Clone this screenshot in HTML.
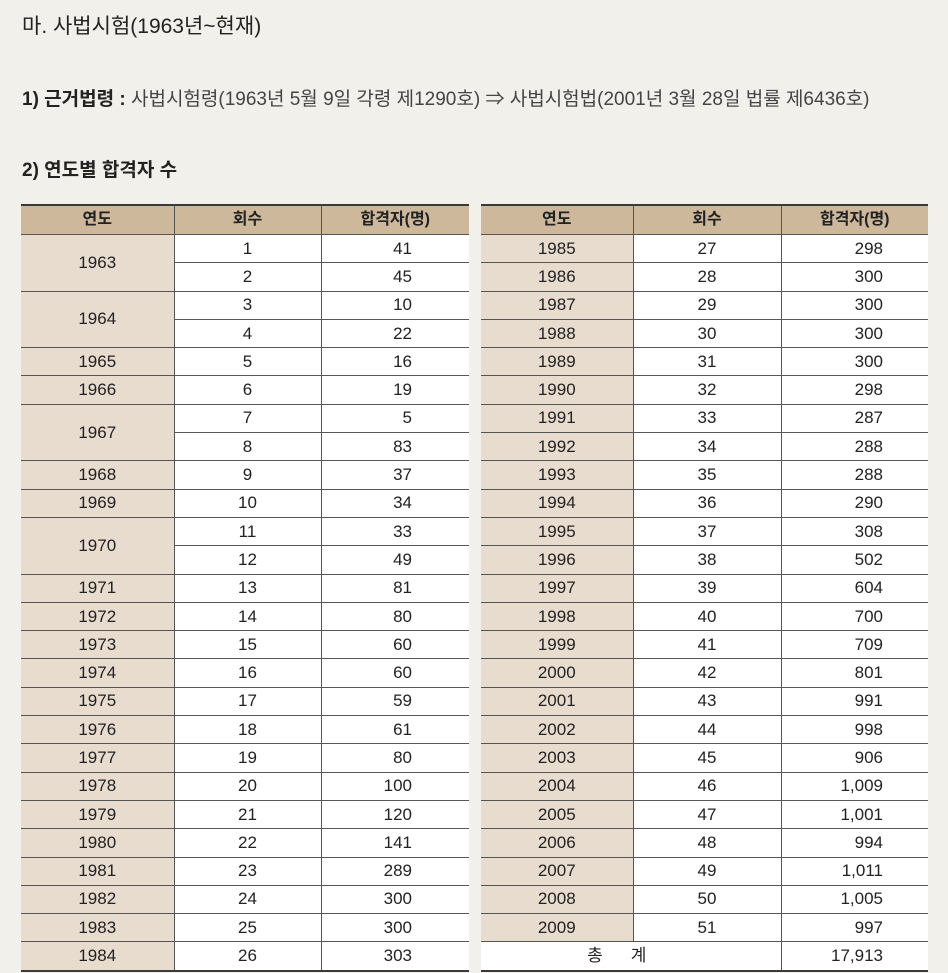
<!DOCTYPE html>
<html><head><meta charset="utf-8">
<style>
body{margin:0;width:948px;height:973px;background:#f2f0eb;font-family:"Liberation Sans","Noto Sans CJK KR",sans-serif;color:#222;position:relative;overflow:hidden}
.t{position:absolute;white-space:nowrap}
table{position:absolute;border-collapse:collapse;table-layout:fixed;font-size:17px;border-top:2px solid #3a3a3a;border-bottom:2px solid #3a3a3a}
td,th{height:27.3px;padding:0;border:1px solid #555;text-align:center;background:#fff;line-height:16px}
th{height:28px;background:#cdb89c;font-weight:bold;font-size:16px;border-top:none}
tr td:first-child,tr th:first-child{border-left:none}
tr td:last-child,tr th:last-child{border-right:none}
td.y{background:#e8dccf}
td.n{text-align:right}
#lt td.n{padding-right:57px}
#rt td.n{padding-right:45px}
</style></head><body>
<div class="t" style="left:22px;top:10px;font-size:21px">마. 사법시험(1963년~현재)</div>
<div class="t" style="left:22px;top:84px;font-size:19px"><b>1) 근거법령 :</b> <span style="color:#444">사법시험령(1963년 5월 9일 각령 제1290호) ⇒ 사법시험법(2001년 3월 28일 법률 제6436호)</span></div>
<div class="t" style="left:22px;top:155px;font-size:19px;font-weight:bold">2) 연도별 합격자 수</div>
<table id="lt" style="left:21px;top:204px;width:448px">
<colgroup><col style="width:153px"><col style="width:147px"><col style="width:148px"></colgroup>
<tr><th>연도</th><th>회수</th><th>합격자(명)</th></tr>
</table>
<table id="rt" style="left:481px;top:204px;width:447px">
<colgroup><col style="width:152px"><col style="width:148px"><col style="width:147px"></colgroup>
<tr><th>연도</th><th>회수</th><th>합격자(명)</th></tr>
</table>
<script>
const leftYears=[1963,1963,1964,1964,1965,1966,1967,1967,1968,1969,1970,1970,1971,1972,1973,1974,1975,1976,1977,1978,1979,1980,1981,1982,1983,1984];
const leftCounts=["41","45","10","22","16","19","5","83","37","34","33","49","81","80","60","60","59","61","80","100","120","141","289","300","300","303"];
const rightYears=[1985,1986,1987,1988,1989,1990,1991,1992,1993,1994,1995,1996,1997,1998,1999,2000,2001,2002,2003,2004,2005,2006,2007,2008,2009];
const rightCounts=["298","300","300","300","300","298","287","288","288","290","308","502","604","700","709","801","991","998","906","1,009","1,001","994","1,011","1,005","997"];
function fill(id,years,counts,startRound){
  const t=document.getElementById(id);
  years.forEach((y,i)=>{
    const tr=document.createElement('tr');
    
    
    if(i===0||years[i-1]!==y){
      let span=1;while(years[i+span]===y)span++;
      const c=document.createElement('td');c.className='y';c.textContent=y;if(span>1)c.rowSpan=span;
      
      
      tr.appendChild(c);
    }
    const r=document.createElement('td');r.textContent=startRound+i;
    
    
    tr.appendChild(r);
    const n=document.createElement('td');n.className='n';n.textContent=counts[i];
    
    
    tr.appendChild(n);
    t.appendChild(tr);
  });
}
fill('lt',leftYears,leftCounts,1);
fill('rt',rightYears,rightCounts,27);
const rt=document.getElementById('rt');
const tr=document.createElement('tr');


tr.innerHTML='<td colspan="2" style="letter-spacing:28px">총계</td><td class="n">17,913</td>';
rt.appendChild(tr);
</script>
</body></html>
